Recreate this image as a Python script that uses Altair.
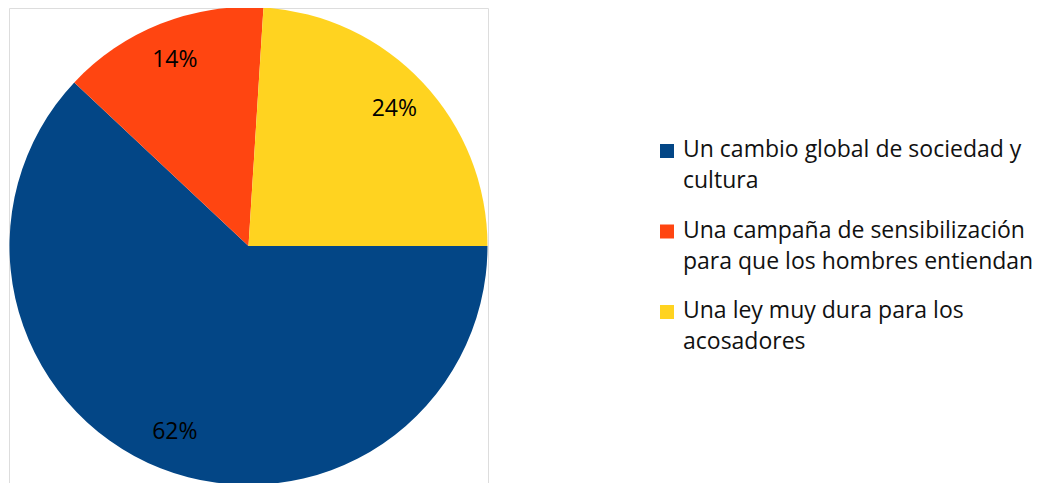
import math
import altair as alt
import pandas as pd

categories = [
    "Un cambio global de sociedad y\ncultura",
    "Una campaña de sensibilización\npara que los hombres entiendan",
    "Una ley muy dura para los\nacosadores",
]
shares = [62, 14, 24]
labels = ["62%", "14%", "24%"]
colors = ["#034686", "#FF4511", "#FFD320"]

df = pd.DataFrame({
    "cat": categories,
    "share": shares,
    "label": labels,
    "idx": list(range(len(categories))),
})

color = alt.Color("cat:N", scale=alt.Scale(domain=categories, range=colors), legend=None)
theta = alt.Theta("share:Q", stack=True,
                  scale=alt.Scale(range=[math.pi / 2, math.pi / 2 + 2 * math.pi]))
order = alt.Order("idx:Q")

base = alt.Chart(df)

pie = base.mark_arc(radius=239, stroke=None).encode(theta=theta, color=color, order=order)

pie_text = base.mark_text(radius=200, fontSize=23, font="Open Sans", color="#000000").encode(
    theta=theta, order=order, text="label:N"
)

leg_y = alt.Y("idx:Q", scale=alt.Scale(domain=[0, 2], range=[149, 310]), axis=None)

leg_sq = base.mark_square(size=196, opacity=1, yOffset=-6).encode(
    x=alt.value(658), y=leg_y, color=color
)
leg_txt = base.mark_text(
    align="left", baseline="alphabetic", lineBreak="\n", lineHeight=31,
    fontSize=23, font="Open Sans", color="#111111"
).encode(x=alt.value(674), y=leg_y, text="cat:N")

chart = alt.layer(pie, pie_text, leg_sq, leg_txt).properties(
    width=479, height=476,
    autosize=alt.AutoSizeParams(type="none"),
    padding={"left": 1, "top": 0, "right": 547, "bottom": 0},
).configure_view(stroke="#BFBFBF", strokeWidth=2).configure(background="white")

chart.save("out.html", embed_options={"renderer": "svg", "actions": False})
